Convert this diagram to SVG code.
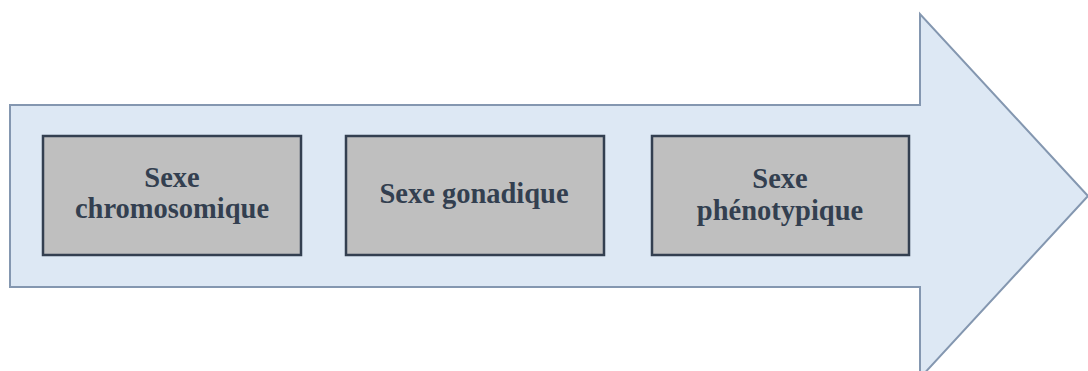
<svg xmlns="http://www.w3.org/2000/svg" width="1088" height="371" viewBox="0 0 1088 371">
  <style>
    .box { fill: #bfbfbf; stroke: #333f50; stroke-width: 2.5; }
    .lbl { font-family: "Liberation Serif", "Times New Roman", serif; font-weight: bold; font-size: 28.5px; fill: #333f50; text-anchor: middle; }
  </style>
  <!-- large block arrow in the background -->
  <g id="arrow">
    <polygon points="10,105 920,105 920,14 1088,196 920,378 920,287 10,287" fill="#dde8f4" stroke="#8497b0" stroke-width="2"/>
  </g>
  <g id="node-chromosomique">
    <rect class="box" x="43" y="136" width="258" height="119"/>
    <text class="lbl" x="172" y="187">Sexe</text>
    <text class="lbl" x="172" y="218">chromosomique</text>
  </g>
  <g id="node-gonadique">
    <rect class="box" x="346" y="136" width="258" height="119"/>
    <text class="lbl" x="474" y="203">Sexe gonadique</text>
  </g>
  <g id="node-phenotypique">
    <rect class="box" x="652" y="136" width="257" height="119"/>
    <text class="lbl" x="780" y="188">Sexe</text>
    <text class="lbl" x="780" y="220">phénotypique</text>
  </g>
  <g id="connectors"/>
</svg>
